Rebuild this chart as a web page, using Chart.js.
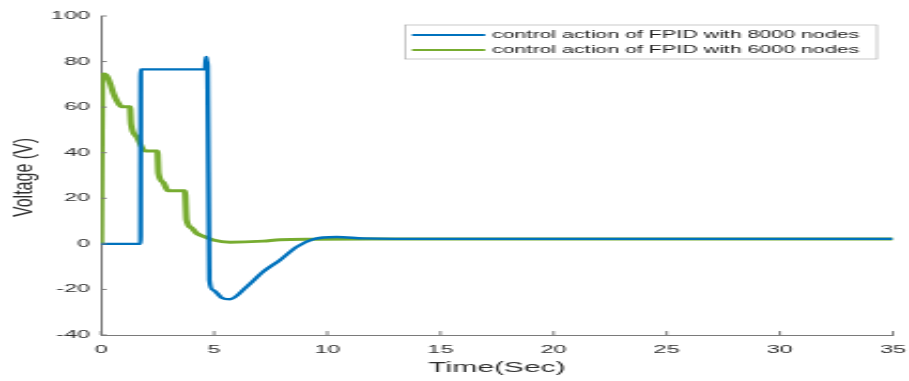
<!DOCTYPE html>
<html>
<head>
<meta charset="utf-8">
<script src="https://cdn.jsdelivr.net/npm/chart.js@4"></script>
<style>
  html, body { margin: 0; padding: 0; background: #fff; overflow: hidden; }
  /* the reference is a horizontally stretched MATLAB figure, so draw narrow and stretch */
  #wrap { position: absolute; left: 0; top: 0; width: 425px; height: 381px;
          transform: scaleX(2.1388); transform-origin: 0 0; }
</style>
</head>
<body>
<div id="wrap"><canvas id="chart"></canvas></div>
<script>
// --- data ---
const seriesLabels = ['control action of FPID with 8000 nodes', 'control action of FPID with 6000 nodes'];
const seriesColors = ['#0072BD', '#77AC30'];

const time8000 = [0, 1.75, 1.76, 4.6, 4.64, 4.68, 4.71, 4.79, 4.96, 5.33, 5.7, 6.44, 7.17, 7.91, 8.65, 9.38, 10.41, 11.6, 13, 35];
const volt8000 = [0, 0, 76.6, 76.6, 82, 80, 78, -15.9, -20.3, -23.6, -24.3, -18.8, -12.2, -7.1, -1.3, 2.0, 3.0, 2.4, 2.2, 2.2];

const time6000 = [0, 0.05, 0.15, 0.3, 0.42, 0.55, 0.75, 0.91, 1.28, 1.33, 1.58, 1.94, 2.49, 2.54, 2.75, 2.96, 3.71, 3.78, 4.0, 4.23, 4.6, 4.96, 5.7, 7.17, 7.91, 9.4, 12, 35];
const volt6000 = [0, 74, 74.5, 73, 70, 66, 62, 60.2, 60.2, 52.5, 47, 40.8, 40.8, 31, 27, 23.3, 23.3, 10.5, 7, 4.6, 3.1, 1.7, 0.7, 1.2, 1.8, 2.0, 2.1, 2.1];

const xTitle = 'Time(Sec)';
const yTitle = 'Voltage (V)';

const toPoints = (ts, vs) => ts.map((t, i) => ({ x: t, y: vs[i] }));

const axisColor = '#7a7a7a';
const labelColor = '#2e2e2e';
const fontFamily = '"Liberation Sans", Arial, sans-serif';

/**
 * MATLAB style inward tick marks, boxed legend and y title
 */
const matlabDecor = {
  id: 'matlabDecor',
  afterDraw(chart) {
    const { ctx, chartArea, scales } = chart;
    ctx.save();

    // inward ticks
    ctx.strokeStyle = axisColor;
    ctx.lineWidth = 1;
    ctx.beginPath();
    scales.y.ticks.forEach(t => {
      const py = scales.y.getPixelForValue(t.value);
      ctx.moveTo(chartArea.left, py);
      ctx.lineTo(chartArea.left + 2.7, py);
    });
    scales.x.ticks.forEach(t => {
      const px = scales.x.getPixelForValue(t.value);
      ctx.moveTo(px, chartArea.bottom);
      ctx.lineTo(px, chartArea.bottom - 4);
    });
    ctx.stroke();

    // legend box
    const box = { left: 189.4, right: 410, top: 25, bottom: 59 };
    ctx.fillStyle = '#fff';
    ctx.fillRect(box.left, box.top, box.right - box.left, box.bottom - box.top);
    ctx.strokeStyle = '#a6a6a6';
    ctx.lineWidth = 0.6;
    ctx.strokeRect(box.left, box.top, box.right - box.left, box.bottom - box.top);
    ctx.font = '10px ' + fontFamily;
    ctx.textBaseline = 'middle';
    ctx.textAlign = 'left';
    chart.data.datasets.forEach((ds, i) => {
      const rowY = 35 + i * 15;
      ctx.strokeStyle = ds.borderColor;
      ctx.lineWidth = 2;
      ctx.beginPath();
      ctx.moveTo(192.6, rowY);
      ctx.lineTo(226.8, rowY);
      ctx.stroke();
      ctx.fillStyle = '#1a1a1a';
      ctx.fillText(ds.label, 230, rowY + 0.5);
    });

    // y axis title (less stretched than the rest in the reference)
    ctx.translate(10.8, 177.5);
    ctx.scale(0.85, 1);
    ctx.rotate(-Math.PI / 2);
    ctx.font = '16px ' + fontFamily;
    ctx.textAlign = 'center';
    ctx.textBaseline = 'middle';
    ctx.fillStyle = labelColor;
    ctx.fillText(yTitle, 0, 0);

    ctx.restore();
  }
};

new Chart(document.getElementById('chart'), {
  type: 'line',
  data: {
    datasets: [
      {
        label: seriesLabels[0],
        data: toPoints(time8000, volt8000),
        borderColor: seriesColors[0],
        borderWidth: 2.3,
        pointRadius: 0,
        cubicInterpolationMode: 'monotone',
        fill: false
      },
      {
        label: seriesLabels[1],
        data: toPoints(time6000, volt6000),
        borderColor: seriesColors[1],
        borderWidth: 3,
        pointRadius: 0,
        cubicInterpolationMode: 'monotone',
        fill: false
      }
    ]
  },
  options: {
    responsive: true,
    maintainAspectRatio: false,
    animation: false,
    layout: { padding: { left: 0, right: 7.5, top: 16, bottom: 0 }, autoPadding: false },
    plugins: {
      legend: { display: false },
      tooltip: { enabled: false }
    },
    scales: {
      x: {
        type: 'linear',
        min: 0,
        max: 35,
        // the end labels may hang over the plot edge, like in MATLAB
        afterFit: s => { s.height = 46; s.paddingLeft = 0; s.paddingRight = 0; },
        grid: { display: false, drawTicks: false },
        border: { display: true, color: axisColor, width: 1 },
        ticks: {
          stepSize: 5,
          padding: 8,
          color: labelColor,
          font: { family: fontFamily, size: 11 }
        },
        title: {
          display: true,
          text: xTitle,
          color: labelColor,
          padding: { top: 0, bottom: 4 },
          font: { family: fontFamily, size: 14 }
        }
      },
      y: {
        min: -40,
        max: 100,
        afterFit: s => { s.width = 47.2; s.paddingTop = 0; s.paddingBottom = 0; },
        grid: { display: false, drawTicks: false },
        border: { display: true, color: axisColor, width: 1 },
        ticks: {
          stepSize: 20,
          padding: 5,
          color: labelColor,
          font: { family: fontFamily, size: 11 }
        }
      }
    }
  },
  plugins: [matlabDecor]
});
</script>
</body>
</html>
